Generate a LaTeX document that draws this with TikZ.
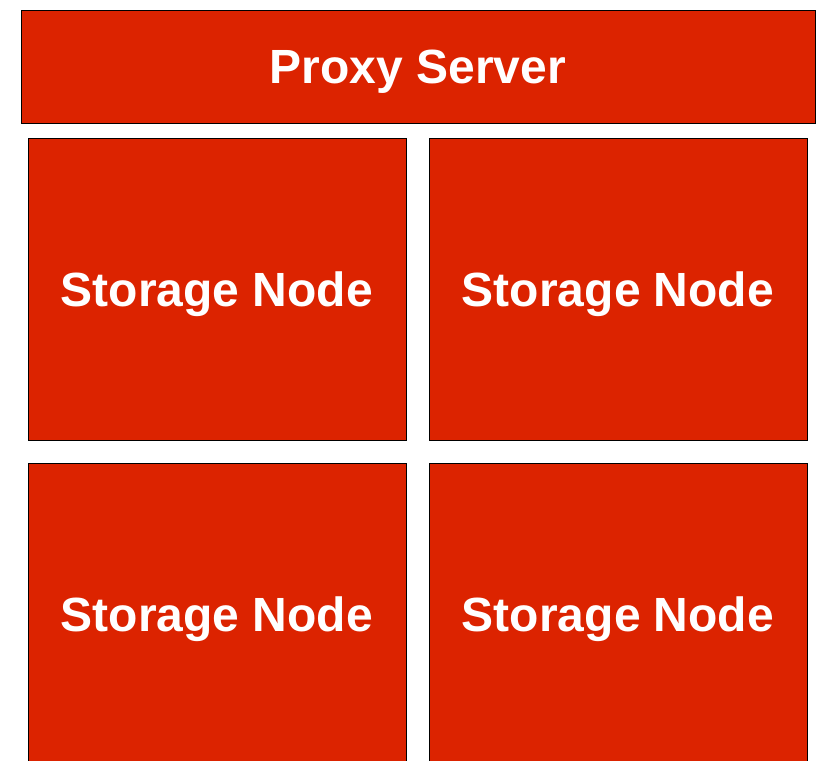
\documentclass[tikz,border=0pt]{standalone}
\usepackage{fontspec}
\setmainfont{Liberation Sans}
\usetikzlibrary{positioning}
\definecolor{boxred}{RGB}{220,35,0}

\begin{document}
\begin{tikzpicture}[x=1pt, y=-1pt,
	block/.style={draw=black, line width=0.9pt, fill=boxred, text=white,
		font=\fontsize{48}{56}\selectfont\bfseries, inner sep=0pt,
		text height=35pt, text depth=0pt},
	proxy/.style={block, minimum width=794pt, minimum height=113pt},
	storage/.style={block, minimum width=378pt, minimum height=302pt}]
	
	\useasboundingbox (0,0) rectangle (816,760);
	
	% top: proxy
	\node[proxy] (proxy) at (418,66.5) {Proxy Server};
	
	% storage nodes
	\node[storage] (sn1) at (217,289) {Storage Node};
	\node[storage] (sn2) at (618,289) {Storage Node};
	\node[storage] (sn3) at (217,614) {Storage Node};
	\node[storage] (sn4) at (618,614) {Storage Node};
	
\end{tikzpicture}
\end{document}
